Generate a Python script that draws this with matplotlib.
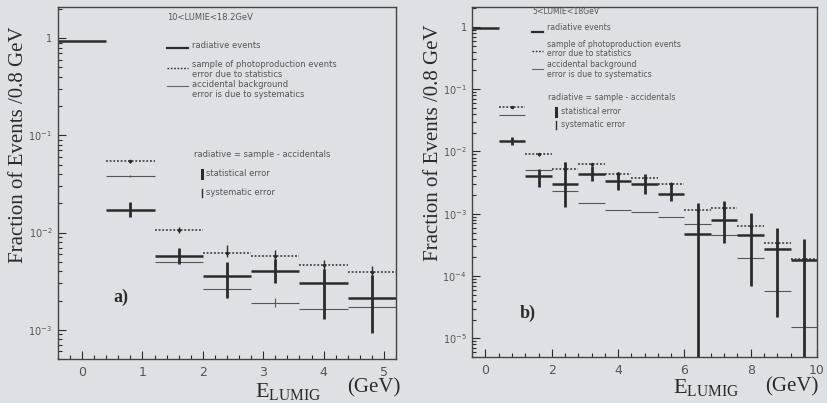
import numpy as np
import matplotlib
matplotlib.use('Agg')
import matplotlib.pyplot as plt
from matplotlib.ticker import AutoMinorLocator, LogLocator, NullFormatter

# ---- panel a: 10 < LUMIE < 18.2 GeV ----
centers_a = [0.0, 0.8, 1.6, 2.4, 3.2, 4.0, 4.8]
rad_a = [0.93, 0.017, 0.0057, 0.0036, 0.0040, 0.0030, 0.0021]
rad_lo_a = [np.nan, 0.0146, 0.0047, 0.0021, 0.0030, 0.0013, 0.00093]
rad_hi_a = [np.nan, 0.0204, 0.0070, 0.0050, 0.0053, 0.0042, 0.0037]
sample_a = [np.nan, 0.054, 0.0107, 0.0062, 0.0058, 0.0046, 0.0039]
sample_lo_a = [np.nan, 0.052, 0.0100, 0.0056, 0.0052, 0.0041, 0.0034]
sample_hi_a = [np.nan, 0.056, 0.0115, 0.0074, 0.0066, 0.0052, 0.0045]
acc_a = [np.nan, 0.038, 0.0050, 0.0026, 0.0019, 0.00165, 0.0017]
acc_lo_a = [np.nan, 0.037, 0.0049, 0.0025, 0.0017, 0.0016, 0.00165]
acc_hi_a = [np.nan, 0.039, 0.0051, 0.0027, 0.0021, 0.0017, 0.00175]

# ---- panel b: 5 < LUMIE < 18 GeV ----
centers_b = [0.0, 0.8, 1.6, 2.4, 3.2, 4.0, 4.8, 5.6, 6.4, 7.2, 8.0, 8.8, 9.6]
rad_b = [0.96, 0.0145, 0.0040, 0.0030, 0.0044, 0.0033, 0.0030, 0.0021,
         0.00048, 0.00080, 0.00046, 0.00027, 0.00018]
rad_lo_b = [np.nan, 0.0125, 0.0027, 0.0013, 0.0034, 0.0024, 0.0021, 0.0016,
            1e-9, 0.00034, 6.9e-5, 2.2e-5, 1e-9]
rad_hi_b = [np.nan, 0.0170, 0.0053, 0.0067, 0.0059, 0.0046, 0.0044, 0.0031,
            0.0015, 0.0016, 0.00101, 0.00059, 0.00040]
sample_b = [np.nan, 0.051, 0.0090, 0.0053, 0.0062, 0.0044, 0.0038, 0.0030,
            0.00115, 0.00125, 0.00064, 0.00034, 0.000187]
sample_lo_b = [np.nan, 0.049, 0.0085, 0.0045, 0.0058, 0.0041, 0.0035, 0.0028,
               0.00105, 0.00112, 0.00058, 0.00031, 0.000175]
sample_hi_b = [np.nan, 0.053, 0.0096, 0.0068, 0.0066, 0.0047, 0.0041, 0.0032,
               0.00128, 0.00140, 0.00070, 0.00037, 0.000200]
acc_b = [np.nan, 0.038, 0.0051, 0.0023, 0.0015, 0.00116, 0.00107, 0.00090,
         0.00069, 0.00046, 0.000195, 5.7e-5, 1.5e-5]

half = 0.4
bg = '#dde1e6'
ink = '#2b2b2b'
grey_txt = '#555555'

plt.rcParams['mathtext.fontset'] = 'custom'
plt.rcParams['mathtext.rm'] = 'Liberation Serif'

fig = plt.figure(figsize=(8.27, 4.03), dpi=100, facecolor=bg)
ax_a = fig.add_axes([0.070, 0.109, 0.409, 0.874], facecolor=bg)
ax_b = fig.add_axes([0.571, 0.114, 0.417, 0.869], facecolor=bg)


def draw_panel(ax, x, rad, rad_lo, rad_hi, samp, samp_lo, samp_hi, acc, acc_lo=None, acc_hi=None):
    x = np.array(x)
    # sample of photoproduction events (dotted)
    ax.hlines(samp, x - half, x + half, colors=ink, linestyles=(0, (1.2, 1.2)), lw=1.1)
    ax.vlines(x, samp_lo, samp_hi, colors=ink, lw=1.0)
    ax.plot(x, samp, ls='none', marker='.', ms=3, color=ink)
    # accidental background (thin solid)
    ax.hlines(acc, x - half, x + half, colors='#555555', lw=0.8)
    if acc_lo is not None:
        ax.vlines(x, acc_lo, acc_hi, colors='#555555', lw=0.8)
    # radiative = sample - accidentals
    ax.hlines(rad, x - half, x + half, colors=ink, lw=1.8)
    ax.vlines(x, rad_lo, rad_hi, colors=ink, lw=2.0)


draw_panel(ax_a, centers_a, rad_a, rad_lo_a, rad_hi_a, sample_a, sample_lo_a, sample_hi_a,
           acc_a, acc_lo_a, acc_hi_a)
draw_panel(ax_b, centers_b, rad_b, rad_lo_b, rad_hi_b, sample_b, sample_lo_b, sample_hi_b, acc_b)

ax_a.set_yscale('log')
ax_b.set_yscale('log')
ax_a.set_xlim(-0.4, 5.2)
ax_a.set_ylim(5e-4, 2.1)
ax_b.set_xlim(-0.4, 10.0)
ax_b.set_ylim(5e-6, 2.1)

ax_a.set_xticks([0, 1, 2, 3, 4, 5])
ax_b.set_xticks([0, 2, 4, 6, 8, 10])
ax_a.set_yticks([1e-3, 1e-2, 1e-1, 1])
ax_b.set_yticks([1e-5, 1e-4, 1e-3, 1e-2, 1e-1, 1])

for ax in (ax_a, ax_b):
    ax.xaxis.set_minor_locator(AutoMinorLocator(5))
    ax.yaxis.set_minor_locator(LogLocator(base=10, subs=np.arange(2, 10)))
    ax.yaxis.set_minor_formatter(NullFormatter())
    ax.set_yticklabels(['1' if t == 1 else r'$\mathsf{10^{%d}}$' % round(np.log10(t))
                        for t in ax.get_yticks()])
    ax.tick_params(which='both', direction='in', top=False, right=False, colors=ink,
                   labelcolor=grey_txt, width=0.8)
    ax.tick_params(axis='x', labelsize=9, pad=5)
    ax.tick_params(axis='y', labelsize=7, pad=4)
    ax.tick_params(which='major', length=6)
    ax.tick_params(which='minor', length=3)
    for s in ax.spines.values():
        s.set_color('#444444')
        s.set_linewidth(1.0)

# legend-style annotations
small = dict(color=grey_txt, family='DejaVu Sans', va='center')


def annotate(ax, title, tx, ty, lx0, lx1, rows, eq_y, stat_y, sys_y, gx, fs):
    tr = ax.transAxes
    kw = dict(small, fontsize=fs, transform=tr)
    ax.text(tx, ty, title, **kw)
    (y_rad, t_rad), (y_smp, t_smp1, t_smp2), (y_acc, t_acc1, t_acc2) = rows
    ax.plot([lx0, lx1], [y_rad, y_rad], transform=tr, color=ink, lw=1.6)
    ax.text(lx1 + 0.012, t_rad, 'radiative events', **kw)
    ax.plot([lx0, lx1], [y_smp, y_smp], transform=tr, color=ink, lw=1.0, ls=(0, (1.2, 1.2)))
    ax.text(lx1 + 0.012, t_smp1, 'sample of photoproduction events', **kw)
    ax.text(lx1 + 0.012, t_smp2, 'error due to statistics', **kw)
    ax.plot([lx0, lx1], [y_acc, y_acc], transform=tr, color='#666666', lw=0.8)
    ax.text(lx1 + 0.012, t_acc1, 'accidental background', **kw)
    ax.text(lx1 + 0.012, t_acc2, 'error is due to systematics', **kw)
    ax.text(gx - 0.024, eq_y, 'radiative = sample - accidentals', **kw)
    ax.plot([gx, gx], [stat_y - 0.012, stat_y + 0.012], transform=tr, color=ink, lw=2.2)
    ax.text(gx + 0.012, stat_y, 'statistical error', **kw)
    ax.plot([gx, gx], [sys_y - 0.012, sys_y + 0.012], transform=tr, color=ink, lw=1.0)
    ax.text(gx + 0.012, sys_y, 'systematic error', **kw)


annotate(ax_a, '10<LUMIE<18.2GeV', 0.322, 0.969, 0.322, 0.385,
         [(0.884, 0.889), (0.827, 0.837, 0.808), (0.776, 0.780, 0.751)],
         0.582, 0.526, 0.472, 0.426, 6)
annotate(ax_b, '5<LUMIE<18GeV', 0.174, 0.986, 0.174, 0.206,
         [(0.929, 0.94), (0.874, 0.893, 0.867), (0.822, 0.834, 0.808)],
         0.74, 0.70, 0.663, 0.244, 5.6)

ax_a.text(0.163, 0.176, 'a)', transform=ax_a.transAxes, fontsize=13, fontweight='bold',
          family='Liberation Serif', color=ink, va='center')
ax_b.text(0.139, 0.126, 'b)', transform=ax_b.transAxes, fontsize=13, fontweight='bold',
          family='Liberation Serif', color=ink, va='center')

# axis titles
serif = dict(family='Liberation Serif', color=ink)
for yx, yy in ((0.022, 0.64), (0.524, 0.645)):
    fig.text(yx, yy, 'Fraction of Events /0.8 GeV', rotation=90, fontsize=15,
             ha='center', va='center', **serif)
for ex, ey, gx, gy in ((0.308, 0.015, 0.420, 0.027), (0.814, 0.024, 0.925, 0.029)):
    fig.text(ex, ey, r'E$_{\mathregular{LUMIG}}$', fontsize=16, va='baseline', **serif)
    fig.text(gx, gy, '(GeV)', fontsize=15, va='baseline', **serif)

fig.savefig('out.png', dpi=100, facecolor=bg)
